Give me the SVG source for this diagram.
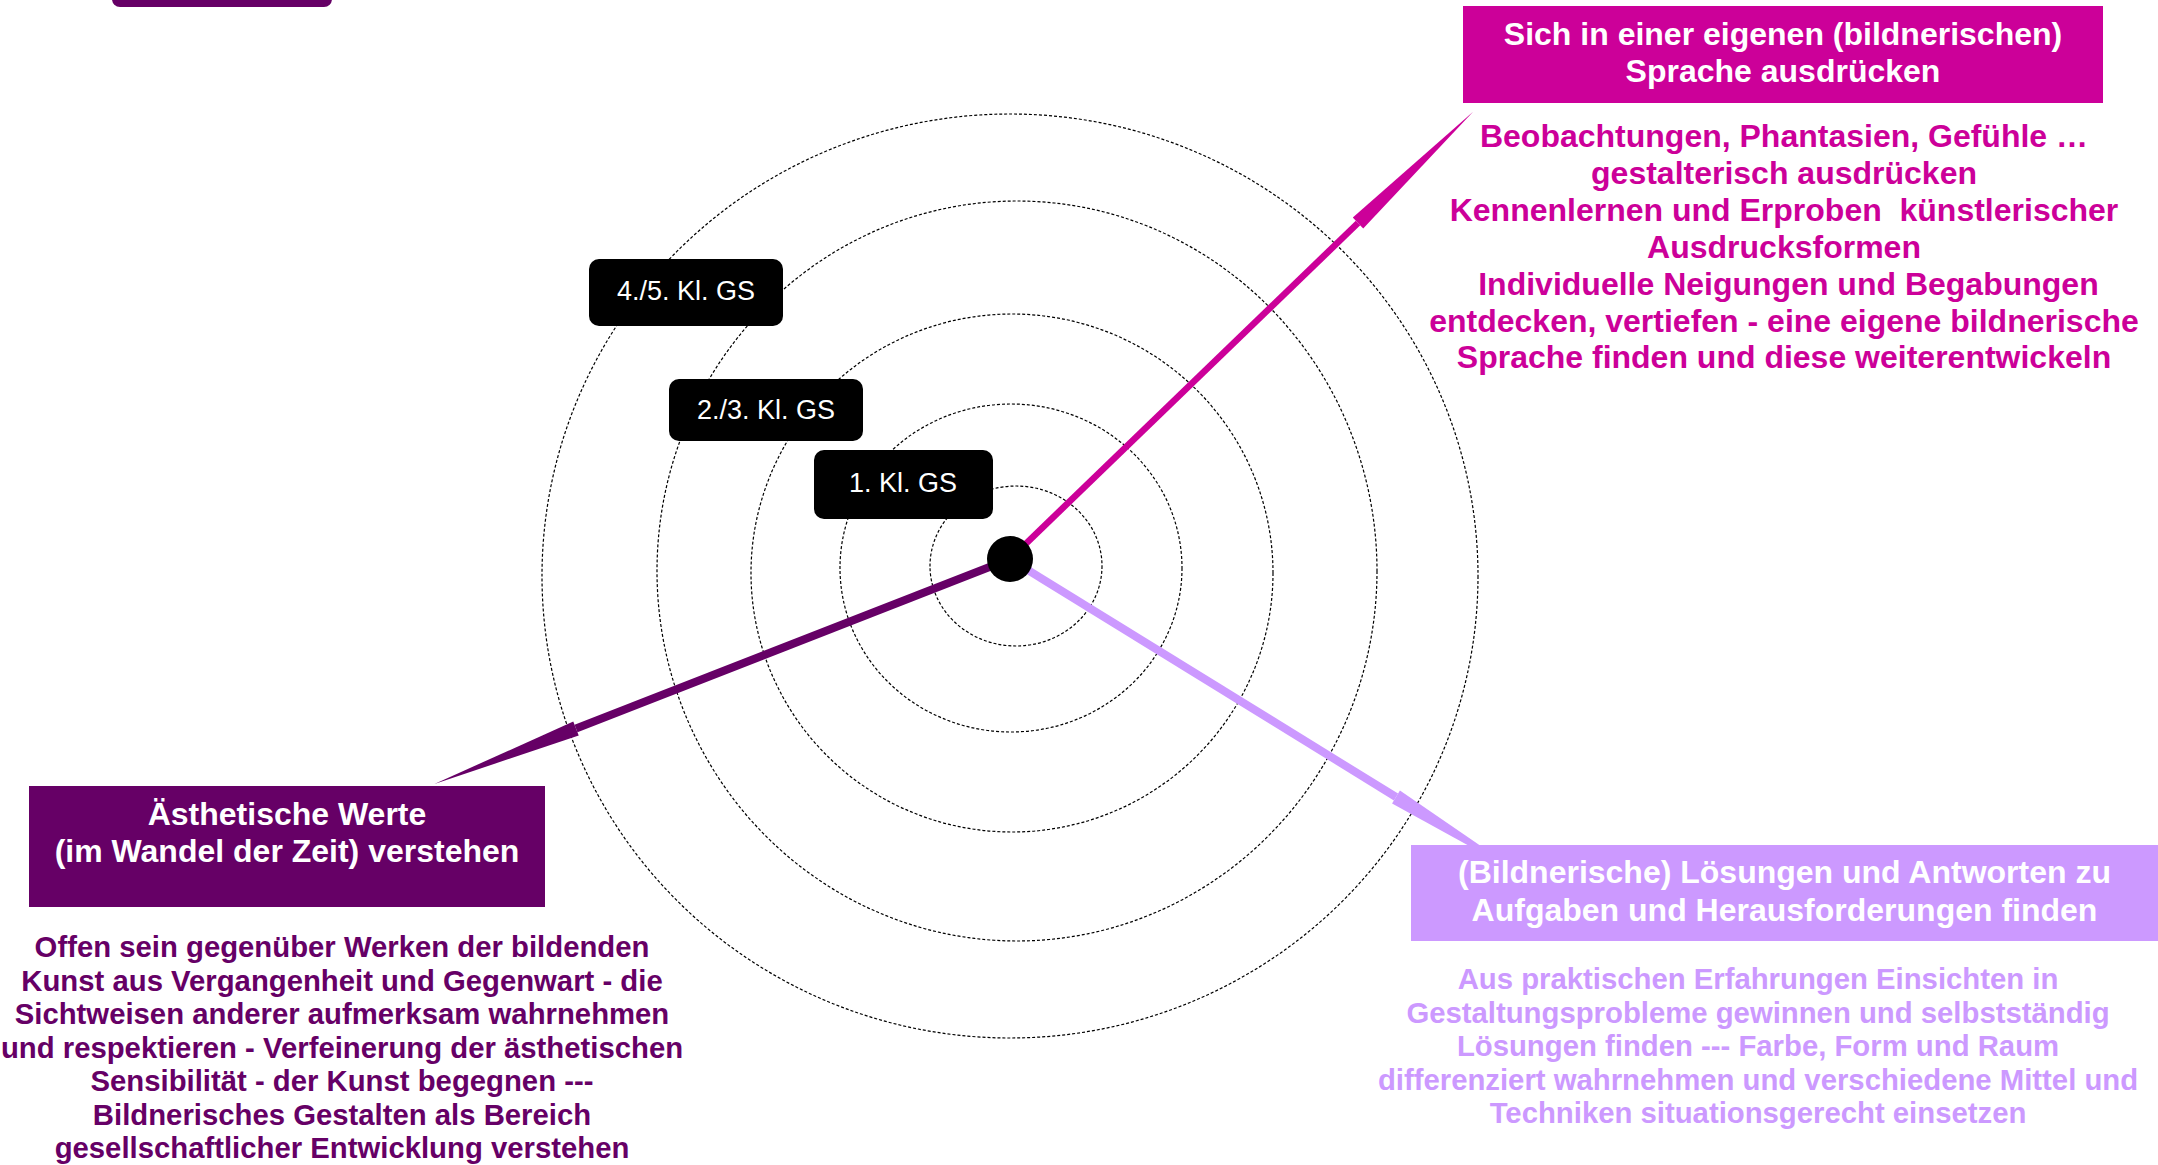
<svg xmlns="http://www.w3.org/2000/svg" width="2158" height="1165" viewBox="0 0 2158 1165">
<style>
.ring{fill:none;stroke:#000;stroke-width:1.2;stroke-dasharray:3 2}
.lbl{fill:#000}
.lt{font-family:"Liberation Sans",Arial,Helvetica,sans-serif;font-size:27px;fill:#fff;text-anchor:middle}
.ttl{font-family:"Liberation Sans",Arial,Helvetica,sans-serif;font-size:32px;font-weight:bold;fill:#fff;text-anchor:middle}
.desc{font-family:"Liberation Sans",Arial,Helvetica,sans-serif;font-weight:bold;text-anchor:middle}
.mag{fill:#CC0099}
.pur{fill:#660066}
.lav{fill:#CC99FF}
.shaft{fill:none;stroke-linecap:butt}
</style>
<defs>
<marker id="hM" markerUnits="userSpaceOnUse" orient="auto" refX="0" refY="0" markerWidth="170" markerHeight="20" overflow="visible"><path d="M0,-7.5 L160,0 L0,7.5 Z" fill="#CC0099"/></marker>
<marker id="hP" markerUnits="userSpaceOnUse" orient="auto" refX="0" refY="0" markerWidth="170" markerHeight="20" overflow="visible"><path d="M0,-7.5 L152,0 L0,7.5 Z" fill="#660066"/></marker>
<marker id="hL" markerUnits="userSpaceOnUse" orient="auto" refX="0" refY="0" markerWidth="170" markerHeight="20" overflow="visible"><path d="M0,-7.5 L155,0 L0,7.5 Z" fill="#CC99FF"/></marker>
</defs>

<g id="rings">
<ellipse class="ring" cx="1016" cy="566" rx="86" ry="80"/>
<ellipse class="ring" cx="1011" cy="568" rx="171" ry="164"/>
<ellipse class="ring" cx="1012" cy="573" rx="261" ry="259"/>
<ellipse class="ring" cx="1017" cy="571" rx="360" ry="370"/>
<ellipse class="ring" cx="1010" cy="576" rx="468" ry="462"/>
</g>

<g id="connectors">
<line class="shaft" x1="1010" y1="559" x2="1358" y2="223" stroke="#CC0099" stroke-width="6.5" marker-end="url(#hM)"/>
<line class="shaft" x1="1010" y1="559" x2="576" y2="728.6" stroke="#660066" stroke-width="8" marker-end="url(#hP)"/>
<line class="shaft" x1="1010" y1="559" x2="1396" y2="797" stroke="#CC99FF" stroke-width="8" marker-end="url(#hL)"/>
</g>

<g id="center">
<circle cx="1010" cy="559" r="23" fill="#000"/>
</g>

<g id="grade45">
<rect class="lbl" x="589" y="259" width="194" height="67" rx="10"/>
<text class="lt" x="686" y="300">4./5. Kl. GS</text>
</g>
<g id="grade23">
<rect class="lbl" x="669" y="379" width="194" height="62" rx="10"/>
<text class="lt" x="766" y="419">2./3. Kl. GS</text>
</g>
<g id="grade1">
<rect class="lbl" x="814" y="450" width="179" height="69" rx="10"/>
<text class="lt" x="903" y="492">1. Kl. GS</text>
</g>

<g id="topleft">
<rect class="pur" x="112" y="-20" width="220" height="27" rx="8"/>
</g>

<g id="sprache">
<rect class="mag" x="1463" y="6" width="640" height="97"/>
<text class="ttl"><tspan x="1783" y="45">Sich in einer eigenen (bildnerischen)</tspan><tspan x="1783" y="81.7">Sprache ausdrücken</tspan></text>
<text class="desc mag" font-size="32" xml:space="preserve"><tspan x="1784" y="147">Beobachtungen, Phantasien, Gefühle …</tspan><tspan x="1784" y="183.9">gestalterisch ausdrücken</tspan><tspan x="1784" y="220.8">Kennenlernen und Erproben  künstlerischer</tspan><tspan x="1784" y="257.7">Ausdrucksformen</tspan><tspan x="1784" y="294.6"> Individuelle Neigungen und Begabungen</tspan><tspan x="1784" y="331.5">entdecken, vertiefen - eine eigene bildnerische</tspan><tspan x="1784" y="368.4">Sprache finden und diese weiterentwickeln</tspan></text>
</g>

<g id="aesthetik">
<rect class="pur" x="29" y="786" width="516" height="121"/>
<text class="ttl"><tspan x="287" y="825">Ästhetische Werte</tspan><tspan x="287" y="861.7">(im Wandel der Zeit) verstehen</tspan></text>
<text class="desc pur" font-size="29.3"><tspan x="342" y="957">Offen sein gegenüber Werken der bildenden</tspan><tspan x="342" y="990.5">Kunst aus Vergangenheit und Gegenwart - die</tspan><tspan x="342" y="1024.1">Sichtweisen anderer aufmerksam wahrnehmen</tspan><tspan x="342" y="1057.6">und respektieren - Verfeinerung der ästhetischen</tspan><tspan x="342" y="1091.2">Sensibilität - der Kunst begegnen ---</tspan><tspan x="342" y="1124.7">Bildnerisches Gestalten als Bereich</tspan><tspan x="342" y="1158.3">gesellschaftlicher Entwicklung verstehen</tspan></text>
</g>

<g id="loesungen">
<rect class="lav" x="1411" y="845" width="760" height="96"/>
<text class="ttl"><tspan x="1784.5" y="883.3">(Bildnerische) Lösungen und Antworten zu</tspan><tspan x="1784.5" y="920.7">Aufgaben und Herausforderungen finden</tspan></text>
<text class="desc lav" font-size="29.3"><tspan x="1758" y="989">Aus praktischen Erfahrungen Einsichten in</tspan><tspan x="1758" y="1022.6">Gestaltungsprobleme gewinnen und selbstständig</tspan><tspan x="1758" y="1056.2">Lösungen finden --- Farbe, Form und Raum</tspan><tspan x="1758" y="1089.8">differenziert wahrnehmen und verschiedene Mittel und</tspan><tspan x="1758" y="1123.4">Techniken situationsgerecht einsetzen</tspan></text>
</g>
</svg>
